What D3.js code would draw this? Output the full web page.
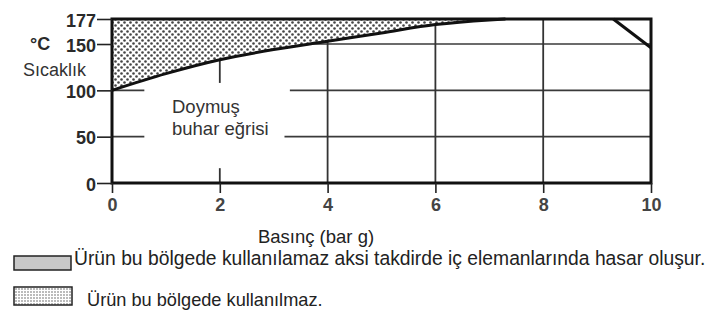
<!DOCTYPE html>
<html><head><meta charset="utf-8">
<script src="https://cdn.jsdelivr.net/npm/d3@7"></script>
<style>body{margin:0;background:#fff;overflow:hidden}</style>
</head><body><svg id="c" width="718" height="320"></svg>
<script>
// ---- data ----
const pressure = [0, 1, 2, 3, 4, 5, 6, 7, 7.3];
const satTemp  = [100, 118, 133, 144, 153, 162, 171, 176, 177];
const cornerP  = [9.3, 10, 10];
const cornerT  = [177, 177, 146];
const xTicks   = [0, 2, 4, 6, 8, 10];
const yTicks   = [0, 50, 100, 150, 177];
const gridVx   = [2, 2, 4, 6, 8];
const gridVfrom= [108, 0, 0, 0, 0];
const gridVto  = [133, 16, 153, 177, 177];
const gridHy   = [150, 100, 100, 50, 50];
const gridHfrom= [3.6, 0, 3.3, 0, 3.2];
const gridHto  = [10, 0.6, 10, 0.6, 10];
const yUnit = "°C";
const yLabel = "Sıcaklık";
const xLabel = "Basınç (bar g)";
const curveLabel = ["Doymuş", "buhar eğrisi"];
const legendTexts = ["Ürün bu bölgede kullanılamaz aksi takdirde iç elemanlarında hasar oluşur.",
                     "Ürün bu bölgede kullanılmaz."];

// ---- drawing ----
const svg = d3.select("#c");
const x = d3.scaleLinear().domain([0, 10]).range([112, 651]);
const y = d3.scaleLinear().domain([0, 177]).range([183, 19]);
const font = "'Liberation Sans', Arial, sans-serif";

const defs = svg.append("defs");
const pat = defs.append("pattern").attr("id", "dots").attr("patternUnits", "userSpaceOnUse")
  .attr("width", 6).attr("height", 6);
pat.append("rect").attr("width", 6).attr("height", 6).attr("fill", "#fff");
pat.append("circle").attr("cx", 1.5).attr("cy", 1.5).attr("r", 1.3).attr("fill", "#444");
pat.append("circle").attr("cx", 4.5).attr("cy", 4.5).attr("r", 1.3).attr("fill", "#444");
const pat2 = defs.append("pattern").attr("id", "dots2").attr("patternUnits", "userSpaceOnUse")
  .attr("width", 3).attr("height", 3);
pat2.append("rect").attr("width", 3).attr("height", 3).attr("fill", "#fff");
pat2.append("circle").attr("cx", 1).attr("cy", 1).attr("r", 0.75).attr("fill", "#555");

// grid
svg.append("g").selectAll("line").data(gridHy).join("line")
  .attr("x1", (d, i) => x(gridHfrom[i])).attr("x2", (d, i) => x(gridHto[i]))
  .attr("y1", d => y(d)).attr("y2", d => y(d))
  .attr("stroke", "#3a3a3a").attr("stroke-width", 1.6);
svg.append("g").selectAll("line").data(gridVx).join("line")
  .attr("x1", d => x(d)).attr("x2", d => x(d))
  .attr("y1", (d, i) => y(gridVfrom[i])).attr("y2", (d, i) => y(gridVto[i]))
  .attr("stroke", "#333").attr("stroke-width", 1.8);

// dotted region above saturation curve
const pts = pressure.map((p, i) => [p, satTemp[i]]);
const area = d3.area().x(d => x(d[0])).y0(y(177)).y1(d => y(d[1])).curve(d3.curveMonotoneX);
svg.append("path").datum(pts).attr("d", area).attr("fill", "url(#dots)");
svg.append("path").datum(pts)
  .attr("d", d3.line().x(d => x(d[0])).y(d => y(d[1])).curve(d3.curveMonotoneX))
  .attr("fill", "none").attr("stroke", "#111").attr("stroke-width", 3);

// corner triangle
const cpts = cornerP.map((p, i) => [p, cornerT[i]]);
svg.append("path").datum(cpts)
  .attr("d", d3.line().x(d => x(d[0])).y(d => y(d[1])) + "Z")
  .attr("fill", "url(#dots)");
svg.append("line").attr("x1", x(cornerP[0])).attr("y1", y(cornerT[0]))
  .attr("x2", x(cornerP[2])).attr("y2", y(cornerT[2]))
  .attr("stroke", "#111").attr("stroke-width", 3);

// frame
svg.append("rect").attr("x", x(0)).attr("y", y(177)).attr("width", x(10) - x(0))
  .attr("height", y(0) - y(177)).attr("fill", "none").attr("stroke", "#111").attr("stroke-width", 3);

// axes
const ax = svg.append("g").attr("transform", `translate(0,${y(0)})`)
  .call(d3.axisBottom(x).tickValues(xTicks).tickSize(10).tickPadding(5).tickFormat(d3.format("d")));
const ay = svg.append("g").attr("transform", `translate(${x(0)},0)`)
  .call(d3.axisLeft(y).tickValues(yTicks).tickSize(15).tickPadding(1).tickFormat(d3.format("d")));
[ax, ay].forEach(a => {
  a.select(".domain").remove();
  a.selectAll("line").attr("stroke", "#222").attr("stroke-width", 1.6);
  a.selectAll("text").attr("font-family", font).attr("font-weight", "bold")
    .attr("font-size", 18).attr("fill", "#2a2a2a");
});
ax.selectAll("text").attr("fill", "#444");
ay.selectAll("text").attr("dy", "0.39em");

// labels
svg.append("text").attr("x", 30).attr("y", 50).text(yUnit)
  .attr("font-family", font).attr("font-weight", "bold").attr("font-size", 18).attr("fill", "#2a2a2a");
svg.append("text").attr("x", 23).attr("y", 76).text(yLabel)
  .attr("font-family", font).attr("font-size", 18).attr("fill", "#333");
svg.append("text").attr("x", 316).attr("y", 243).attr("text-anchor", "middle").text(xLabel)
  .attr("font-family", font).attr("font-size", 18.5).attr("fill", "#222");
svg.append("g").selectAll("text").data(curveLabel).join("text")
  .attr("x", 172).attr("y", (d, i) => 113 + i * 22).text(d => d)
  .attr("font-family", font).attr("font-size", 18.5).attr("fill", "#333");

// legend
svg.append("rect").attr("x", 14).attr("y", 256).attr("width", 57).attr("height", 14)
  .attr("fill", "#c8c8c8").attr("stroke", "#222").attr("stroke-width", 1.5);
svg.append("rect").attr("x", 14).attr("y", 287).attr("width", 58).attr("height", 18)
  .attr("fill", "url(#dots2)").attr("stroke", "#222").attr("stroke-width", 1.5);
svg.append("text").attr("x", 74).attr("y", 265).text(legendTexts[0])
  .attr("font-family", font).attr("font-size", 19.3).attr("fill", "#222");
svg.append("text").attr("x", 87).attr("y", 306).text(legendTexts[1])
  .attr("font-family", font).attr("font-size", 18.2).attr("fill", "#222");
</script></body></html>
